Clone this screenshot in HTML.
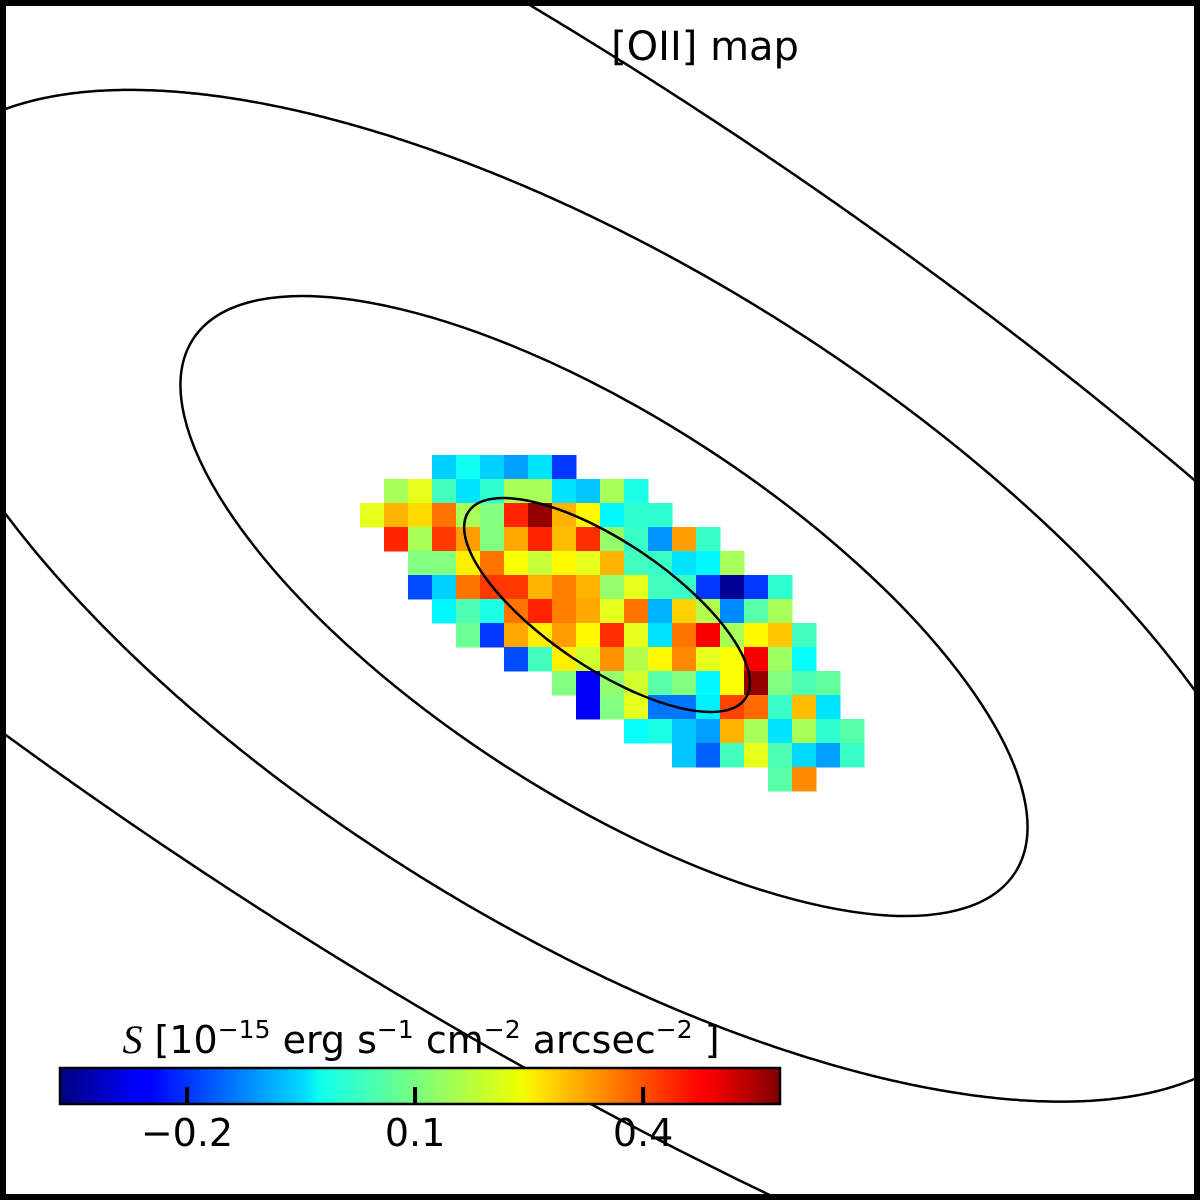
<!DOCTYPE html>
<html><head><meta charset="utf-8"><style>
html,body{margin:0;padding:0;background:#fff;width:1200px;height:1200px;overflow:hidden}
svg{display:block}
text{font-family:"DejaVu Sans","Liberation Sans",sans-serif}
</style></head><body>
<svg id="chart" width="1200" height="1200" viewBox="0 0 1200 1200" xmlns="http://www.w3.org/2000/svg" overflow="hidden">
<rect x="0" y="0" width="1200" height="1200" fill="#fff"/>
<g id="cells"></g>
<g id="contours" fill="none" stroke="#000" stroke-width="2.5">
<ellipse cx="607" cy="605" rx="167" ry="63" transform="rotate(34 607 605)"/>
<ellipse cx="604" cy="606" rx="490" ry="188" transform="rotate(33 604 606)"/>
</g>
<text x="705" y="60" font-size="40" text-anchor="middle">[OII] map</text>
<defs><linearGradient id="jet" x1="0" x2="1" y1="0" y2="0">
<stop offset="0" stop-color="#00007f"/><stop offset="0.11" stop-color="#0000ff"/><stop offset="0.125" stop-color="#0000ff"/>
<stop offset="0.34" stop-color="#00dcff"/><stop offset="0.36" stop-color="#0fffee"/><stop offset="0.5" stop-color="#7dff7a"/>
<stop offset="0.64" stop-color="#f0ff00"/><stop offset="0.66" stop-color="#ffea00"/><stop offset="0.89" stop-color="#ff0000"/><stop offset="0.91" stop-color="#f00000"/>
<stop offset="1" stop-color="#7f0000"/></linearGradient></defs>
<g id="colorbar">
<rect x="60" y="1068" width="720" height="36" fill="url(#jet)" stroke="#000" stroke-width="2.5"/>
</g>
<text x="421" y="1053" font-size="38" text-anchor="middle"><tspan font-family="Liberation Serif" font-style="italic" font-size="40">S</tspan> [10<tspan font-size="25" dy="-15">−15</tspan><tspan dy="15">  erg s</tspan><tspan font-size="25" dy="-15">−1</tspan><tspan dy="15">  cm</tspan><tspan font-size="25" dy="-15">−2</tspan><tspan dy="15">  arcsec</tspan><tspan font-size="25" dy="-15">−2</tspan><tspan dy="15"> ]</tspan></text>
<rect x="3" y="3" width="1194" height="1194" fill="none" stroke="#000" stroke-width="6"/>
</svg>
<script>
// normalized intensity (0..1 of colour range) per row; null = no data
const rowStart = [3,1,0,1,2,2,3,4,6,8,9,11,13,17];
const row0 = [0.33,0.39,0.33,0.28,0.35,0.18];
const row1 = [0.54,0.6,0.44,0.35,0.42,0.54,0.54,0.35,0.32,0.54,0.4];
const row2 = [0.6,0.7,0.66,0.76,0.54,0.5,0.84,0.98,0.7,0.63,0.37,0.42,0.42];
const row3 = [0.84,0.54,0.82,0.72,0.5,0.71,0.84,0.69,0.83,0.52,0.43,0.27,0.72,0.43];
const row4 = [0.5,0.5,0.64,0.76,0.62,0.57,0.63,0.6,0.7,0.44,0.43,0.35,0.37,0.54];
const row5 = [0.2,0.33,0.76,0.82,0.82,0.7,0.75,0.7,0.52,0.6,0.44,0.43,0.18,0.02,0.18,0.42];
const row6 = [0.37,0.45,0.4,0.76,0.84,0.75,0.71,0.6,0.76,0.3,0.67,0.55,0.26,0.46,0.54];
const row7 = [0.48,0.18,0.71,0.64,0.72,0.63,0.83,0.6,0.35,0.76,0.88,0.54,0.63,0.68,0.44];
const row8 = [0.2,0.44,0.64,0.58,0.73,0.55,0.63,0.74,0.6,0.62,0.88,0.53,0.38];
const row9 = [0.5,0.12,0.52,0.58,0.46,0.5,0.37,0.62,0.98,0.5,0.45,0.47];
const row10 = [0.12,0.5,0.6,0.24,0.24,0.36,0.81,0.77,0.43,0.69,0.35];
const row11 = [0.38,0.4,0.32,0.28,0.7,0.54,0.35,0.54,0.42,0.46];
const row12 = [0.32,0.22,0.44,0.6,0.45,0.34,0.28,0.43];
const row13 = [0.46,0.74];
const rows = [row0,row1,row2,row3,row4,row5,row6,row7,row8,row9,row10,row11,row12,row13];
const tickValues = [-0.2, 0.1, 0.4];
const tickLabels = ["\u22120.2","0.1","0.4"];
const vmin = -0.367, vmax = 0.58;

const NS="http://www.w3.org/2000/svg";
const x0=360,y0=455,cell=24;
function jet(t){
  t=Math.max(0,Math.min(1,t));
  const f=(a)=>Math.max(0,Math.min(1,1.5-Math.abs(4*t-a)));
  return `rgb(${Math.round(255*f(3))},${Math.round(255*f(2))},${Math.round(255*f(1))})`;
}
const cg=document.getElementById('cells');
rows.forEach((r,ri)=>{
  r.forEach((v,ci)=>{
    if(v===null)return;
    const rect=document.createElementNS(NS,'rect');
    
    
    rect.setAttribute('x',x0+(rowStart[ri]+ci)*cell);
    rect.setAttribute('y',y0+ri*cell);
    rect.setAttribute('width',cell+0.5);
    rect.setAttribute('height',cell+0.5);
    rect.setAttribute('fill',jet(v));
    cg.appendChild(rect);
  });
});
// outer contours: traced points, fitted with a conic for smoothness
const contour3Points = [[12,113],[157,91],[306,109],[459,153],[600,212],[1109,600],[1187,691],
  [12,536],[73,600],[600,969],[753,1029],[983,1086],[1086,1117],[1187,1102]];
const contour4Points = [[535,11],[600,45],[1187,474],[12,740],[383,983],[600,1113],[757,1187]];
function fitConic(pts){
  const S=1000, M=[[0,0,0,0,0],[0,0,0,0,0],[0,0,0,0,0],[0,0,0,0,0],[0,0,0,0,0]], b=[0,0,0,0,0];
  pts.forEach(([px,py])=>{
    const x=px/S,y=py/S,r=[x*x,x*y,y*y,x,y];
    for(let i=0;i<5;i++){b[i]+=r[i];for(let j=0;j<5;j++)M[i][j]+=r[i]*r[j];}
  });
  for(let i=0;i<5;i++){
    let p=i;for(let k=i+1;k<5;k++)if(Math.abs(M[k][i])>Math.abs(M[p][i]))p=k;
    [M[i],M[p]]=[M[p],M[i]];[b[i],b[p]]=[b[p],b[i]];
    for(let k=i+1;k<5;k++){const f=M[k][i]/M[i][i];for(let j=i;j<5;j++)M[k][j]-=f*M[i][j];b[k]-=f*b[i];}
  }
  const c=[0,0,0,0,0];
  for(let i=4;i>=0;i--){let s=b[i];for(let j=i+1;j<5;j++)s-=M[i][j]*c[j];c[i]=s/M[i][i];}
  return c;
}
function conicPaths(c){
  const S=1000,[A,B,C,D,E]=c;const up=[],lo=[];const segs=[];
  for(let px=0;px<=1200;px+=3){
    const x=px/S,qa=C,qb=B*x+E,qc=A*x*x+D*x-1,disc=qb*qb-4*qa*qc;
    if(disc<0){if(up.length>1)segs.push(up.splice(0));else up.length=0;if(lo.length>1)segs.push(lo.splice(0));else lo.length=0;continue;}
    const s=Math.sqrt(disc);
    up.push([px,((-qb-s)/(2*qa))*S]);lo.push([px,((-qb+s)/(2*qa))*S]);
  }
  if(up.length>1)segs.push(up);if(lo.length>1)segs.push(lo);
  return segs.map(sg=>'M'+sg.map(p=>p[0]+','+p[1].toFixed(1)).join(' L'));
}
const ctg=document.getElementById('contours');
[['contour-3',contour3Points],['contour-4',contour4Points]].forEach(([name,pts])=>{
  conicPaths(fitConic(pts)).forEach(d=>{
    const p=document.createElementNS(NS,'path');
    
    
    p.setAttribute('d',d);
    ctg.appendChild(p);
  });
});
const cb=document.getElementById('colorbar');
const cbx=(v)=>60+(v-vmin)/(vmax-vmin)*720;
tickValues.forEach((v,i)=>{
  const l=document.createElementNS(NS,'line');
  
  
  l.setAttribute('x1',cbx(v));l.setAttribute('x2',cbx(v));
  l.setAttribute('y1',1104);l.setAttribute('y2',1087);
  l.setAttribute('stroke','#000');l.setAttribute('stroke-width','4');
  cb.appendChild(l);
  const t=document.createElementNS(NS,'text');
  
  
  t.setAttribute('x',cbx(v));t.setAttribute('y',1146);
  t.setAttribute('font-size','38');t.setAttribute('text-anchor','middle');
  t.textContent=tickLabels[i];
  cb.appendChild(t);
});
</script>
</body></html>
